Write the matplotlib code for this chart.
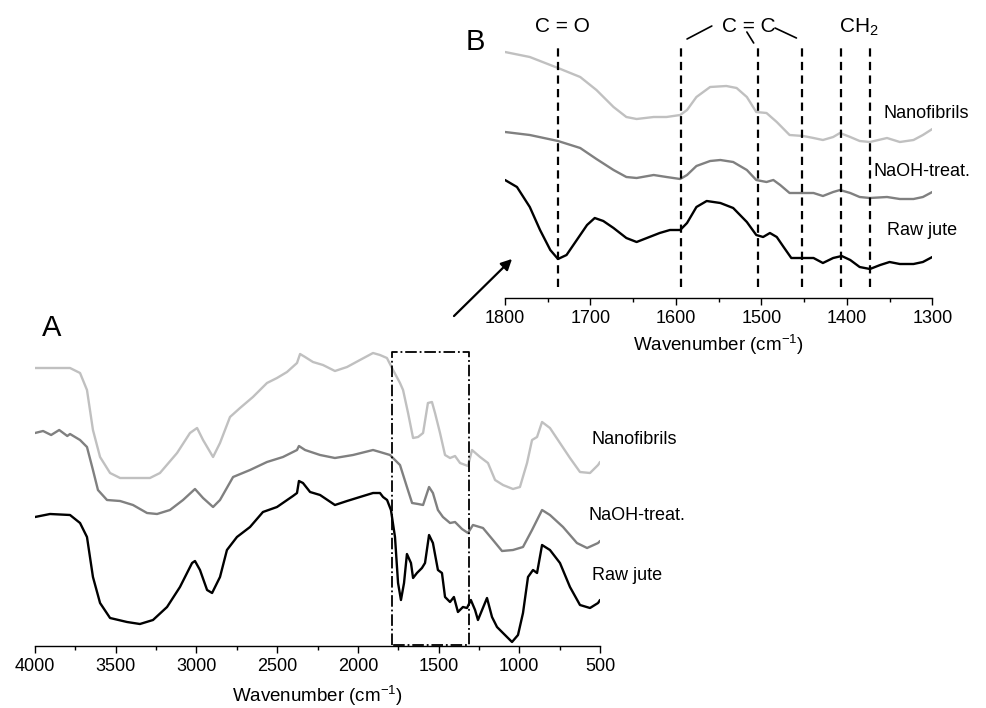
import matplotlib
matplotlib.use("Agg")
import matplotlib.pyplot as plt

plt.rcParams['font.family'] = ['Liberation Sans', 'DejaVu Sans']
plt.rcParams['mathtext.fontset'] = 'custom'
plt.rcParams['mathtext.rm'] = 'Liberation Sans'
plt.rcParams['mathtext.it'] = 'Liberation Sans:italic'
plt.rcParams['lines.solid_joinstyle'] = 'round'
plt.rcParams['lines.solid_capstyle'] = 'round'

light, mid, dark = "#c0c0c0", "#808080", "black"

# ---- panel A : full spectra (transmittance, a.u.) ----
nano_wn = [4000, 3783, 3721, 3678, 3641, 3597, 3535, 3473, 3288, 3226, 3120, 3040, 2996, 2959,
           2897, 2854, 2792, 2730, 2650, 2563, 2501, 2439, 2377, 2358, 2327, 2278, 2216, 2142,
           2067, 1987, 1906, 1863, 1820, 1782, 1739, 1720, 1689, 1658, 1627, 1596, 1566, 1541,
           1522, 1491, 1460, 1429, 1398, 1367, 1318, 1293, 1243, 1194, 1150, 1101, 1039, 996,
           952, 921, 890, 859, 810, 748, 686, 624, 562, 512, 500]
nano_t = [277, 277, 272, 255, 215, 188, 172, 167, 167, 172, 192, 212, 217, 205,
          188, 202, 228, 237, 248, 262, 267, 273, 282, 291, 288, 283, 280, 274,
          278, 285, 292, 290, 287, 275, 262, 255, 232, 207, 208, 212, 242, 243,
          232, 212, 190, 187, 189, 182, 179, 195, 188, 182, 165, 160, 156, 158,
          182, 205, 208, 223, 217, 202, 187, 173, 172, 180, 183]

naoh_wn = [4000, 3950, 3900, 3850, 3800, 3783, 3721, 3678, 3641, 3610, 3554, 3473, 3393, 3306,
           3244, 3164, 3083, 3009, 2959, 2897, 2854, 2773, 2668, 2563, 2464, 2377, 2365, 2327,
           2234, 2142, 2030, 1906, 1863, 1801, 1739, 1696, 1664, 1627, 1596, 1559, 1535, 1504,
           1473, 1429, 1398, 1355, 1318, 1287, 1225, 1163, 1107, 1039, 977, 921, 859, 810, 729,
           643, 580, 512, 500]
naoh_t = [212, 214, 210, 215, 209, 211, 205, 198, 175, 155, 145, 144, 140, 132,
          131, 135, 145, 156, 147, 138, 145, 168, 175, 183, 188, 195, 199, 195,
          190, 187, 190, 195, 193, 190, 180, 158, 142, 141, 140, 158, 152, 135,
          128, 122, 123, 116, 112, 120, 117, 105, 94, 95, 98, 115, 135, 130, 118,
          102, 97, 102, 104]

raw_wn = [4000, 3907, 3783, 3721, 3678, 3641, 3597, 3535, 3430, 3350, 3269, 3182, 3102, 3027,
          3009, 2978, 2934, 2903, 2854, 2811, 2749, 2668, 2588, 2501, 2402, 2377, 2365, 2340,
          2296, 2234, 2142, 2067, 1987, 1906, 1863, 1844, 1819, 1795, 1770, 1751, 1733, 1714,
          1696, 1671, 1658, 1634, 1603, 1584, 1559, 1535, 1504, 1479, 1460, 1429, 1405, 1380,
          1349, 1324, 1300, 1274, 1256, 1200, 1169, 1138, 1101, 1045, 1008, 977, 946, 915, 890,
          859, 810, 748, 686, 624, 562, 512, 500]
raw_t = [128, 131, 130, 122, 108, 68, 42, 27, 23, 21, 25, 38, 58, 82,
         84, 75, 55, 52, 68, 95, 108, 118, 133, 138, 149, 152, 164, 162,
         153, 150, 140, 144, 148, 152, 152, 148, 145, 135, 108, 62, 45, 62,
         91, 82, 67, 72, 77, 82, 110, 102, 75, 72, 48, 43, 48, 33,
         38, 37, 45, 35, 25, 47, 28, 18, 12, 3, 10, 32, 68, 75, 72,
         100, 95, 82, 58, 40, 37, 42, 45]

# ---- panel B : 1800-1300 region ----
b_nano_wn = [1800, 1771, 1738, 1712, 1693, 1673, 1658, 1646, 1626, 1611, 1595, 1587, 1576, 1560,
             1541, 1529, 1517, 1506, 1494, 1482, 1467, 1451, 1439, 1428, 1416, 1408, 1396, 1385,
             1373, 1353, 1338, 1322, 1311, 1300]
b_nano_t = [248, 243, 232, 223, 210, 193, 183, 181, 183, 183, 185, 190, 203, 213,
            214, 212, 203, 188, 187, 178, 165, 164, 162, 160, 163, 167, 163, 159,
            158, 162, 158, 160, 165, 171]

b_naoh_wn = [1800, 1771, 1738, 1712, 1693, 1673, 1658, 1646, 1626, 1611, 1595, 1587, 1576, 1560,
             1548, 1533, 1517, 1506, 1494, 1486, 1478, 1467, 1451, 1439, 1428, 1416, 1408, 1396,
             1385, 1373, 1353, 1338, 1322, 1311, 1300]
b_naoh_t = [168, 165, 159, 152, 141, 130, 123, 122, 125, 123, 121, 125, 134, 139,
            140, 138, 130, 120, 118, 120, 115, 107, 107, 107, 104, 108, 110, 107,
            103, 102, 103, 101, 101, 103, 108]

b_raw_wn = [1800, 1786, 1771, 1759, 1747, 1738, 1728, 1716, 1704, 1695, 1685, 1673, 1658, 1646,
            1634, 1619, 1607, 1595, 1587, 1576, 1564, 1548, 1533, 1517, 1506, 1498, 1490, 1482,
            1474, 1465, 1451, 1439, 1428, 1416, 1406, 1396, 1385, 1373, 1361, 1350, 1338, 1322,
            1311, 1300]
b_raw_t = [120, 113, 93, 70, 50, 41, 45, 60, 75, 82, 79, 72, 62, 58,
           62, 67, 70, 70, 77, 93, 99, 97, 92, 78, 65, 63, 67, 63,
           53, 42, 42, 42, 37, 42, 44, 40, 33, 31, 35, 38, 36, 36,
           38, 43]

band_pos = [1738, 1594, 1504, 1452, 1407, 1373]

W, H = 986, 708
fig = plt.figure(figsize=(W / 100, H / 100), dpi=100)


def style_axis(ax, pad):
	for s in ("left", "right", "top"):
		ax.spines[s].set_visible(False)
	ax.spines["bottom"].set_linewidth(1.0)
	ax.set_yticks([])
	ax.tick_params(axis="x", which="major", length=5, width=1, labelsize=13, pad=pad)
	ax.tick_params(axis="x", which="minor", length=3, width=1)


# panel A
axA = fig.add_axes([35 / W, 1 - 645.7 / H, 565 / W, (645.7 - 340) / H])
axA.plot(nano_wn, nano_t, color=light, lw=1.7)
axA.plot(naoh_wn, naoh_t, color=mid, lw=1.7)
axA.plot(raw_wn, raw_t, color=dark, lw=1.7)
axA.set_xlim(4000, 500)
axA.set_ylim(-0.7, 305)
axA.set_xticks(range(4000, 499, -500))
axA.set_xticks(range(3750, 600, -500), minor=True)
style_axis(axA, 4)
axA.set_xlabel("Wavenumber (cm$^{-1}$)", fontsize=13.5, labelpad=6)
# zoom box
axA.plot([1790, 1790, 1310, 1310, 1790], [0, 293, 293, 0, 0], color="black", lw=1.3,
         ls="-.", clip_on=False)
axA.text(555, 205, "Nanofibrils", fontsize=13, ha="left", va="center")
axA.text(574, 129, "NaOH-treat.", fontsize=13, ha="left", va="center")
axA.text(549, 70, "Raw jute", fontsize=13, ha="left", va="center")

# panel B
axB = fig.add_axes([505 / W, 1 - 298.3 / H, 427.3 / W, (298.3 - 20) / H])
axB.plot(b_nano_wn, b_nano_t, color=light, lw=1.7)
axB.plot(b_naoh_wn, b_naoh_t, color=mid, lw=1.7)
axB.plot(b_raw_wn, b_raw_t, color=dark, lw=1.7)
axB.set_xlim(1800, 1300)
axB.set_ylim(1.7, 280)
axB.set_xticks(range(1800, 1299, -100))
axB.set_xticks(range(1750, 1300, -100), minor=True)
style_axis(axB, 3.5)
axB.set_xlabel("Wavenumber (cm$^{-1}$)", fontsize=13.5, labelpad=4)
axB.vlines(band_pos, 13, 256, colors="black", lw=1.6, linestyles=(0, (3.7, 2.4)))
axB.text(1733, 273, "C = O", fontsize=15, ha="center", va="center")
axB.text(1515, 273, "C = C", fontsize=15, ha="center", va="center")
axB.text(1409, 273, "CH$_2$", fontsize=15, ha="left", va="center")
for xs, ys in [([1587, 1558], [261, 274]), ([1517, 1509], [268, 257]), ([1484, 1459], [272, 262])]:
	axB.plot(xs, ys, color="black", lw=1.2, clip_on=False)
axB.text(1357, 186, "Nanofibrils", fontsize=13, ha="left", va="center")
axB.text(1369, 128, "NaOH-treat.", fontsize=13, ha="left", va="center")
axB.text(1353, 70, "Raw jute", fontsize=13, ha="left", va="center")

# panel letters and arrow
fig.text(52 / W, 1 - 327.5 / H, "A", fontsize=21, ha="center", va="center")
fig.text(475 / W, 1 - 42.5 / H, "B", fontsize=21, ha="center", va="center")
fig.add_artist(matplotlib.patches.FancyArrowPatch(
	(452 / W, 1 - 318 / H), (514 / W, 1 - 257 / H), transform=fig.transFigure,
	arrowstyle="-|>", mutation_scale=16, lw=1.6, color="black"))

fig.savefig("out.png", dpi=100)
